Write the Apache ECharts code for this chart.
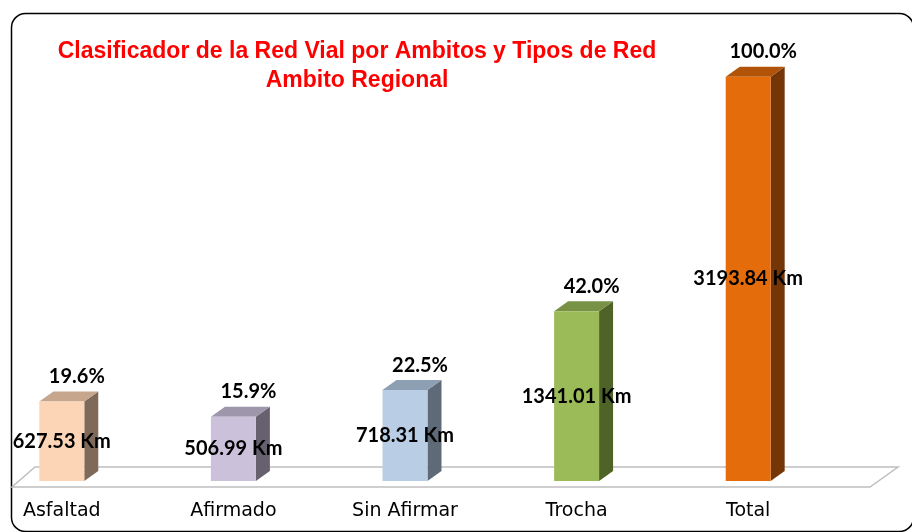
<!DOCTYPE html>
<html>
<head>
<meta charset="utf-8">
<script src="https://cdn.jsdelivr.net/npm/echarts@6/dist/echarts.min.js"></script>
<style>html,body{margin:0;padding:0;background:#fff}#c{width:912px;height:532px}</style>
</head>
<body>
<div id="c"></div>
<script>
const categories = ['Asfaltad', 'Afirmado', 'Sin Afirmar', 'Trocha', 'Total'];
const kmValues = [627.53, 506.99, 718.31, 1341.01, 3193.84];
const percentages = [19.6, 15.9, 22.5, 42.0, 100.0];
const frontColors = ['#FBD5B5', '#CCC1DA', '#B9CDE5', '#9BBB59', '#E46C0A'];
const topColors = ['#C6A68C', '#9E96AB', '#8D9FB3', '#789245', '#B1540A'];
const sideColors = ['#7F6A5A', '#67606F', '#5E6A78', '#4F6228', '#743607'];
const titleLines = ['Clasificador de la Red Vial por Ambitos y Tipos de Red', 'Ambito Regional'];

// oblique 3D projection: bars stand back-left of the floor's front edge
const SHIFT = -36;

const chart = echarts.init(document.getElementById('c'), null, {renderer: 'canvas'});

function renderBar(params, api) {
  const i = api.value(0);
  const v = api.value(1);
  const top = api.coord([i, v]);
  const base = api.coord([i, 0]);
  const bw = api.size([1, 0])[0] * 0.262;
  const dx = 14, dy = 10;
  const cx = top[0] + SHIFT;
  const x0 = cx - bw / 2, x1 = cx + bw / 2;
  const yT = top[1], yB = base[1];
  return {
    type: 'group',
    children: [
      {type: 'polygon', shape: {points: [[x1, yT], [x1 + dx, yT - dy], [x1 + dx, yB - dy], [x1, yB]]},
        style: {fill: sideColors[i]}},
      {type: 'polygon', shape: {points: [[x0, yT], [x0 + dx, yT - dy], [x1 + dx, yT - dy], [x1, yT]]},
        style: {fill: topColors[i]}},
      {type: 'rect', shape: {x: x0, y: yT, width: bw, height: yB - yT},
        style: {fill: frontColors[i]}},
      {type: 'text', z2: 10, style: {
        text: kmValues[i].toFixed(2) + ' Km', x: cx, y: (yT + yB) / 2,
        align: 'center', verticalAlign: 'middle',
        font: 'bold 20px Lato', fill: '#000'}},
      {type: 'text', z2: 10, style: {
        text: percentages[i].toFixed(1) + '%', x: cx + 15, y: yT - 25,
        align: 'center', verticalAlign: 'middle',
        font: 'bold 20px Lato', fill: '#000'}}
    ]
  };
}

function renderFloor(params, api) {
  const cs = params.coordSys;
  const yZero = api.coord([0, 0])[1];
  const fl = cs.x, fr = cs.x + cs.width;
  const yF = yZero + 6, yK = yZero - 14;
  return {
    type: 'polygon',
    shape: {points: [[fl, yF], [fr, yF], [fr + 28, yK], [fl + 23, yK]]},
    style: {fill: '#fff', stroke: '#BFBFBF', lineWidth: 1.5}
  };
}

chart.setOption({
  animation: false,
  backgroundColor: '#fff',
  title: {
    text: titleLines.join('\n'),
    left: 352, top: 32, textAlign: 'center',
    textStyle: {color: '#FF0000', fontFamily: 'Liberation Sans', fontWeight: 'bold', fontSize: 23, lineHeight: 29}
  },
  graphic: [{
    type: 'rect', left: 9, top: 11, z: -1,
    shape: {width: 902, height: 518, r: 14},
    style: {fill: 'none', stroke: '#000', lineWidth: 1.5}
  }],
  grid: {left: 12, right: 42, top: 38, bottom: 51},
  xAxis: {
    type: 'category', data: categories,
    axisLine: {show: false}, axisTick: {show: false},
    axisLabel: {margin: 21, color: '#000', fontFamily: 'DejaVu Sans', fontSize: 19,
      padding: [0, -2 * SHIFT, 0, 0]}
  },
  yAxis: {
    type: 'value', min: 0, max: 3500, show: false, splitLine: {show: false}
  },
  series: [
    {type: 'custom', renderItem: renderFloor, data: [[0, 0]], z: 1, silent: true},
    {type: 'custom', renderItem: renderBar, z: 2,
      data: kmValues.map((v, i) => [i, v])}
  ]
});
</script>
</body>
</html>
